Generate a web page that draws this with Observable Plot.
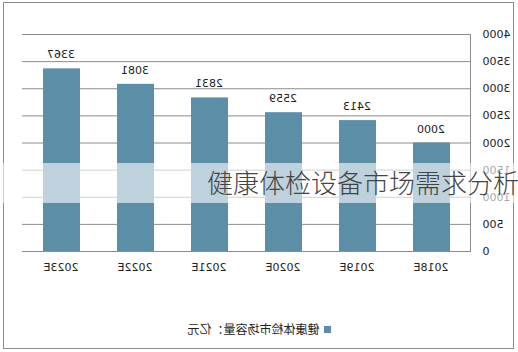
<!DOCTYPE html>
<html><head><meta charset="utf-8">
<script src="https://cdn.jsdelivr.net/npm/d3@7"></script>
<script src="https://cdn.jsdelivr.net/npm/@observablehq/plot@0.6"></script>
<style>
body{margin:0;background:#fff;}
#wrap{position:relative;width:518px;height:352px;overflow:hidden;background:#fff;}
#flip{position:absolute;left:0;top:0;width:518px;height:352px;transform:scaleX(-1);}
#frame{position:absolute;left:3px;top:2px;width:511px;height:347px;border:1px solid #8c8c8c;box-sizing:border-box;}
#chart{position:absolute;left:0;top:0;}
#legend{position:absolute;left:0;top:322px;width:518px;text-align:center;font:12px "Noto Sans CJK SC",sans-serif;color:#222;line-height:14px;}
#legend .sw{display:inline-block;width:7px;height:7px;background:#5b8fa8;margin-right:4px;vertical-align:middle;position:relative;top:-1px;}
#band{position:absolute;left:0;top:163px;width:518px;height:40px;background:rgba(255,255,255,0.6);}
#wm{position:absolute;left:207px;top:163px;height:40px;line-height:40px;font:300 26px "Noto Sans CJK SC",sans-serif;color:#444;white-space:nowrap;}
</style></head>
<body>
<div id="wrap">
  <div id="flip">
    <div id="chart"></div>
    <div id="legend"><span class="sw"></span><span id="legtext"></span></div>
  </div>
  <div id="frame"></div>
  <div id="band"></div>
  <div id="wm"></div>
</div>
<script>
const years = ["2018E","2019E","2020E","2021E","2022E","2023E"];
const values = [2000, 2413, 2559, 2831, 3081, 3367];
const yTicks = [0,500,1000,1500,2000,2500,3000,3500,4000];
const seriesName = "健康体检市场容量：亿元";
const watermark = "健康体检设备市场需求分析";
const barColor = "#5b8fa8";
const gridColor = "#8c8c8c";

const data = years.map((y,i)=>({year:y, value:values[i]}));

const chart = Plot.plot({
  width: 518,
  height: 300,
  marginTop: 34,
  marginBottom: 49,
  marginLeft: 47,
  marginRight: 22,
  style: {fontSize: "11px", fontFamily: "DejaVu Sans, sans-serif", color: "#222", background: "transparent"},
  x: {domain: years, paddingInner: 0.5, paddingOuter: 0.25, label: null},
  y: {domain: [0, 4000], label: null},
  marks: [
    Plot.gridY(yTicks, {stroke: gridColor, strokeOpacity: 1}),
    Plot.axisY(yTicks, {anchor: "left", tickSize: 0, tickPadding: 12, label: null, tickFormat: d => String(d)}),
    Plot.axisX({tickSize: 0, tickPadding: 12, label: null}),
    Plot.frame({anchor: "left", stroke: gridColor}),
    Plot.barY(data, {x: "year", y: "value", fill: barColor}),
    Plot.ruleY([0], {stroke: gridColor}),
    Plot.text(data, {x: "year", y: "value", text: d => String(d.value), dy: -14, fill: "#222"})
  ]
});
document.getElementById("chart").appendChild(chart);
document.getElementById("legtext").textContent = seriesName;
document.getElementById("wm").textContent = watermark;
</script>
</body></html>
